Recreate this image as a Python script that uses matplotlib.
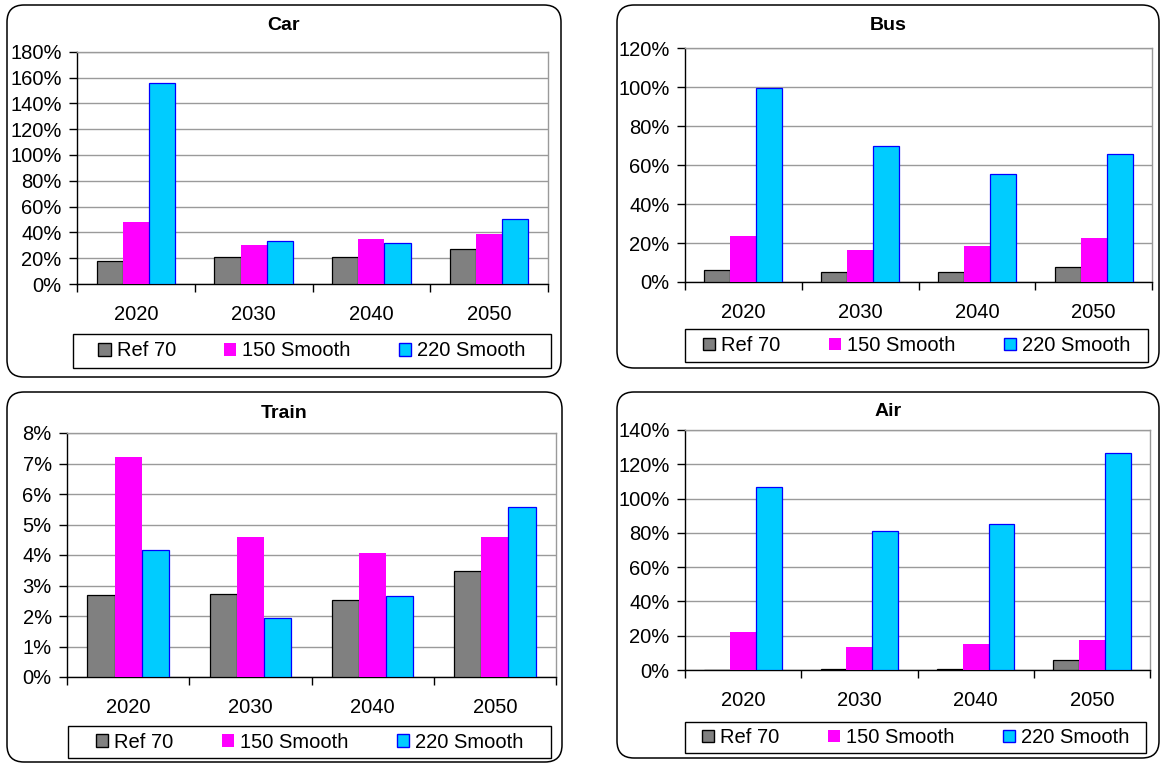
import matplotlib
matplotlib.use("Agg")
import matplotlib.pyplot as plt
import numpy as np
from matplotlib.patches import FancyBboxPatch, Rectangle, Patch
from matplotlib.ticker import PercentFormatter, FixedLocator, MultipleLocator

plt.rcParams['font.family'] = ['Liberation Sans', 'DejaVu Sans']

years = ["2020", "2030", "2040", "2050"]
series = ["Ref 70", "150 Smooth", "220 Smooth"]

# values in percent, one list per scenario
car_ref70 = [18, 21, 21, 27.5]
car_150 = [48, 30.5, 34.5, 38.5]
car_220 = [156, 33.5, 31.5, 50]

bus_ref70 = [6.3, 5.0, 5.0, 7.7]
bus_150 = [23.4, 16.6, 18.5, 22.8]
bus_220 = [99.7, 70.0, 55.6, 65.8]

train_ref70 = [2.68, 2.72, 2.51, 3.48]
train_150 = [7.22, 4.60, 4.06, 4.60]
train_220 = [4.15, 1.92, 2.64, 5.57]

air_ref70 = [0.0, 0.8, 0.8, 5.6]
air_150 = [21.9, 13.4, 15.1, 17.3]
air_220 = [106.8, 81.2, 85.2, 126.8]

fill_colors = ["#808080", "#FF00FF", "#00CCFF"]
edge_colors = ["#000000", "#FF00FF", "#0000FF"]

W, H = 1161, 764
fig = plt.figure(figsize=(W / 100, H / 100), dpi=100)

FS = 14.5


def px_box(x0, y0, x1, y1):
    """pixel box (top-left origin) -> figure fraction [l, b, w, h]"""
    return [x0 / W, 1 - y1 / H, (x1 - x0) / W, (y1 - y0) / H]


def panel(title, data, ymax, ystep, box, axbox, title_y, legbox, pct_dec=0):
    # rounded outer frame, drawn in inches so the corners stay round
    bx0, by0, bx1, by1 = box
    frame = FancyBboxPatch((bx0 / 100, (H - by1) / 100), (bx1 - bx0) / 100, (by1 - by0) / 100,
                           boxstyle="round,pad=0,rounding_size=0.17",
                           transform=fig.dpi_scale_trans, facecolor="white",
                           edgecolor="black", linewidth=1.1, zorder=0)
    fig.patches.append(frame)

    ax = fig.add_axes(px_box(*axbox))
    ax.set_zorder(2)
    ax.patch.set_alpha(0)

    x = np.arange(len(years)) + 0.5
    w = 1 / 4.5
    for i, vals in enumerate(data):
        ax.bar(x + (i - 1) * w, vals, width=w, color=fill_colors[i],
               edgecolor=edge_colors[i], linewidth=0.9 if i != 1 else 0, zorder=3)

    ax.set_xlim(0, len(years))
    ax.set_ylim(0, ymax)
    ax.yaxis.set_major_locator(MultipleLocator(ystep))
    ax.yaxis.set_major_formatter(PercentFormatter(xmax=100, decimals=pct_dec))
    ax.grid(axis="y", color="#9a9a9a", linewidth=1.0, zorder=1)
    ax.set_axisbelow(True)

    ax.set_xticks(x)
    ax.set_xticklabels(years)
    ax.xaxis.set_minor_locator(FixedLocator(np.arange(len(years) + 1)))
    ax.tick_params(axis="x", which="major", length=0, pad=15, labelsize=FS)
    ax.tick_params(axis="x", which="minor", length=6, width=1, direction="out", color="black")
    ax.tick_params(axis="y", length=6, width=1, direction="out", pad=5, labelsize=FS)

    for s in ["left", "bottom"]:
        ax.spines[s].set_color("black")
        ax.spines[s].set_linewidth(1.0)
    for s in ["right", "top"]:
        ax.spines[s].set_color("#9a9a9a")
        ax.spines[s].set_linewidth(1.0)

    # title sits centred on the rounded frame
    fig.text((bx0 + bx1) / 2 / W, 1 - title_y / H, title, ha="center", va="center",
             fontsize=14, fontweight="bold")

    # legend frame and entries
    lx0, ly0, lx1, ly1 = legbox
    fig.patches.append(Rectangle((lx0 / W, 1 - ly1 / H), (lx1 - lx0) / W, (ly1 - ly0) / H,
                                 transform=fig.transFigure, facecolor="white",
                                 edgecolor="black", linewidth=1.0, zorder=1))
    handles = [Patch(facecolor=fill_colors[i], edgecolor=edge_colors[i],
                     linewidth=1.0 if i != 1 else 0) for i in range(3)]
    leg = fig.legend(handles, series, loc="center",
                     bbox_to_anchor=((lx0 + lx1) / 2 / W, 1 - (ly0 + ly1) / 2 / H),
                     ncol=3, frameon=False, fontsize=FS, handlelength=0.6,
                     handleheight=0.6, handletextpad=0.3, columnspacing=2.4)
    leg.set_zorder(3)
    return ax


panel("Car", [car_ref70, car_150, car_220], 180, 20,
      (7, 5, 561, 377), (77, 51.7, 548, 284), 25, (73, 334, 551, 368))
panel("Bus", [bus_ref70, bus_150, bus_220], 120, 20,
      (617, 5, 1159, 368), (685, 48.3, 1152, 282), 25, (685, 329, 1148, 362))
panel("Train", [train_ref70, train_150, train_220], 8, 1,
      (7, 392, 562, 762), (67, 433, 556, 677), 413, (68, 726, 551, 758))
panel("Air", [air_ref70, air_150, air_220], 140, 20,
      (617, 392, 1159, 758), (685, 430, 1150, 670), 412, (685, 722, 1146, 753))

fig.savefig("out.png", dpi=100)
